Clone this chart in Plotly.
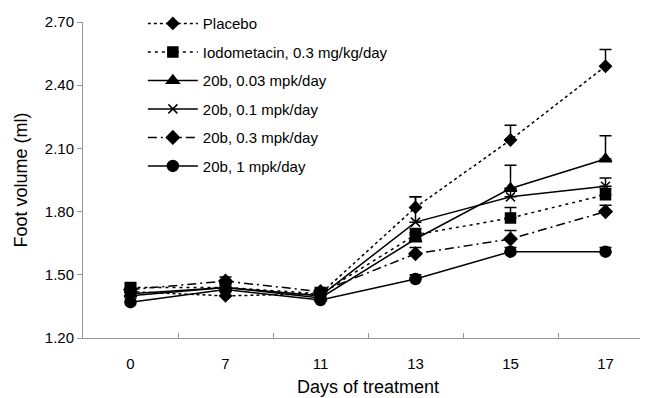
import plotly.graph_objects as go

days = ["0", "7", "11", "13", "15", "17"]

placebo = [1.42, 1.40, 1.41, 1.82, 2.14, 2.49]
placebo_err = [0.02, 0.02, 0.02, 0.05, 0.07, 0.08]
iodo = [1.44, 1.44, 1.41, 1.69, 1.77, 1.88]
iodo_err = [0.02, 0.02, 0.02, 0.03, 0.05, 0.03]
b003 = [1.41, 1.44, 1.39, 1.67, 1.91, 2.05]
b003_err = [0.02, 0.02, 0.02, 0.03, 0.11, 0.11]
b01 = [1.40, 1.44, 1.40, 1.75, 1.87, 1.92]
b01_err = [0.02, 0.02, 0.02, 0.12, 0.04, 0.04]
b03 = [1.43, 1.47, 1.42, 1.60, 1.67, 1.80]
b03_err = [0.02, 0.02, 0.02, 0.03, 0.04, 0.03]
b1 = [1.37, 1.43, 1.38, 1.48, 1.61, 1.61]
b1_err = [0.02, 0.02, 0.02, 0.02, 0.02, 0.02]

series = [
    ("Placebo", placebo, placebo_err, "dot", "diamond", 9),
    ("Iodometacin, 0.3 mg/kg/day", iodo, iodo_err, "3px,4px", "square", 10),
    ("20b, 0.03 mpk/day", b003, b003_err, "solid", "triangle-up", 11),
    ("20b, 0.1 mpk/day", b01, b01_err, "solid", "x-thin", 9),
    ("20b, 0.3 mpk/day", b03, b03_err, "9px,4px,2px,4px", "diamond", 10),
    ("20b, 1 mpk/day", b1, b1_err, "solid", "circle", 11),
]

fig = go.Figure()
for i, (name, vals, err, dash, sym, size) in enumerate(series):
    fig.add_trace(go.Scatter(
        x=days, y=vals, name=name, mode="lines+markers", legendgroup=f"g{i}",
        line=dict(color="black", width=1.5, dash=dash),
        marker=dict(symbol=sym, size=size, color="black",
                    line=dict(color="black", width=1.5)),
        error_y=dict(type="data", array=err, arrayminus=[0] * len(err),
                     symmetric=False, color="black", thickness=1.5, width=6),
    ))

fig.update_layout(
    width=648, height=398,
    margin=dict(l=75, r=3, t=14, b=68, autoexpand=False),
    paper_bgcolor="white", plot_bgcolor="white",
    font=dict(family="Liberation Sans, Arial, sans-serif", size=15, color="black"),
    showlegend=True,
    legend=dict(x=0.105, y=1.047, xanchor="left", yanchor="top",
                bgcolor="rgba(0,0,0,0)", font=dict(size=15),
                tracegroupgap=6, itemwidth=50),
)
fig.update_xaxes(
    type="category", title=dict(text="Days of treatment", standoff=9),
    showline=True, linecolor="#999999", linewidth=1,
    ticks="inside", tickson="boundaries", ticklen=5, tickcolor="#999999",
    ticklabelstandoff=12,
    showgrid=False, zeroline=False, range=[-0.5, 5.5],
)
fig.update_yaxes(
    title=dict(text="Foot volume (ml)", standoff=12),
    range=[1.2, 2.7], dtick=0.3, tick0=1.2, tickformat=".2f",
    showline=True, linecolor="#999999", linewidth=1,
    ticks="outside", ticklen=5, tickcolor="#999999",
    showgrid=False, zeroline=False,
)

fig.write_html("out.html")
